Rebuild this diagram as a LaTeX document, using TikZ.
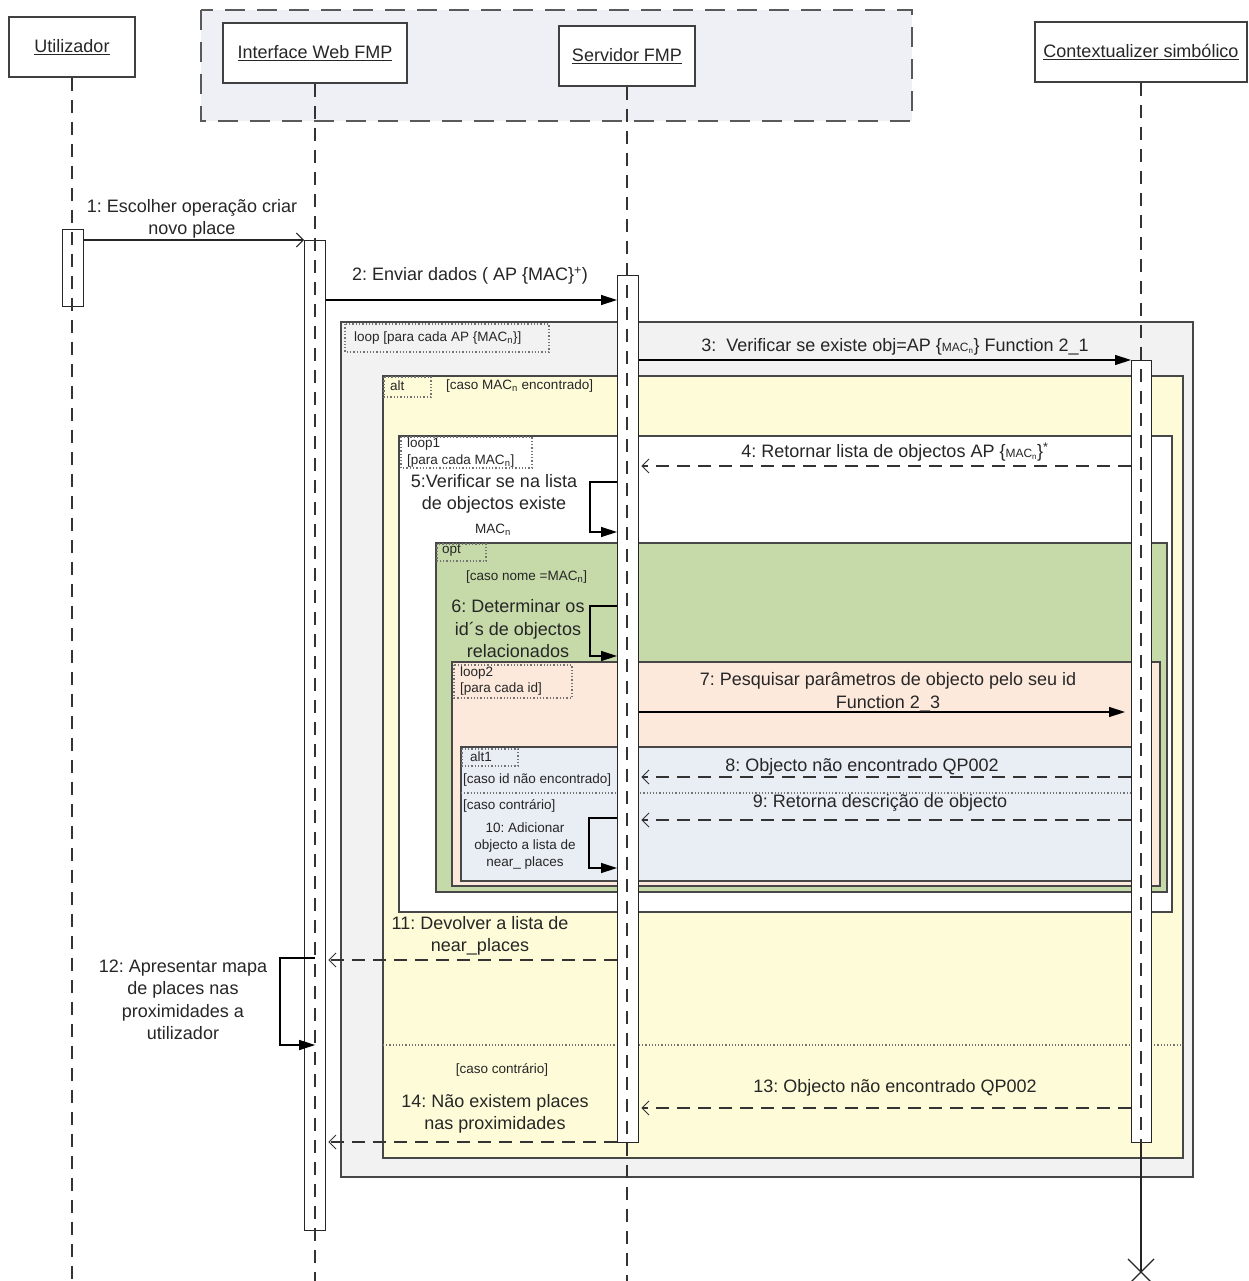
\documentclass[tikz,border=0pt]{standalone}
\usepackage{fontspec}
\setmainfont{Liberation Sans}
\usetikzlibrary{arrows.meta,calc}
\frenchspacing

\definecolor{groupfill}{HTML}{EEF0F6}
\definecolor{loopfill}{HTML}{F2F2F2}
\definecolor{altfill}{HTML}{FEFCD8}
\definecolor{optfill}{HTML}{C6D9A8}
\definecolor{loopBfill}{HTML}{FCE9DC}
\definecolor{altBfill}{HTML}{E9EDF4}
\definecolor{framecol}{HTML}{474747}
\definecolor{txt}{HTML}{262626}

\newcommand\mainfs{\fontsize{18}{22.5}\selectfont}
\newcommand\smallfs{\fontsize{13.5}{17}\selectfont}
\newcommand\macfs{\fontsize{12}{13}\selectfont}

\tikzset{
  head/.style={draw=black!75,line width=1.3pt,fill=white,font=\mainfs,text=txt,inner sep=0pt,minimum height=60pt},
  groupbox/.style={draw=black!65,line width=2pt,dash pattern=on 20pt off 12pt,fill=groupfill},
  lifeline/.style={draw=black!80,line width=1.3pt,dash pattern=on 13pt off 9pt},
  activation/.style={draw=black!85,line width=1.3pt,fill=white,inner sep=0pt,anchor=north west},
  frame/.style={draw=framecol,line width=1.6pt},
  tagbox/.style={draw=black!55,line width=1.3pt,dotted},
  separator/.style={draw=black!55,line width=1.2pt,dotted},
  msg/.style={font=\mainfs,text=txt,align=center,inner sep=0pt},
  smtext/.style={font=\smallfs,text=txt,inner sep=0pt},
  call/.style={draw=black,line width=1.3pt,-{Triangle[length=16pt,width=10pt]}},
  sendopen/.style={draw=black!85,line width=1.3pt,-{Straight Barb[length=7pt,width=14pt,line width=1pt]}},
  reply/.style={draw=black!80,line width=1.3pt,dash pattern=on 13pt off 8pt,-{Straight Barb[length=7pt,width=14pt,line width=1pt]},shorten >=2pt},
}

\begin{document}
\begin{tikzpicture}[x=1pt,y=-1pt]
\useasboundingbox (0,0) rectangle (1248,1281);
\fill[white] (0,0) rectangle (1248,1281);

% component group around the web interface and the server
\draw[groupbox] (201,10) rectangle (912,121);

% lifeline heads
\node[head,minimum width=126pt] (hU) at (72,47) {\underline{Utilizador}};
\node[head,minimum width=184pt] (hI) at (315,53) {\underline{Interface Web FMP}};
\node[head,minimum width=136pt] (hS) at (627,56) {\underline{Servidor FMP}};
\node[head,minimum width=212pt] (hC) at (1141,52) {\underline{Contextualizer simbólico}};

% combined fragment: outer loop
\draw[frame,fill=loopfill] (341,322) rectangle (1193,1177);
\draw[tagbox] (345,324) rectangle (549,352);
\node[smtext,anchor=west] (tLoop) at (354,338) {loop [para cada AP \{MAC\textsubscript{n}\}]};

% alt
\draw[frame,fill=altfill] (383,376) rectangle (1183,1158);
\draw[tagbox] (384,377) rectangle (431,397);
\node[smtext,anchor=west] (tAlt) at (390,386) {alt};
\node[smtext,anchor=west] (gAltA) at (446,386) {[caso MAC\textsubscript{n} encontrado]};
\draw[separator] (383,1045) -- (1183,1045);
\node[smtext] (gAltB) at (502,1070) {[caso contrário]};

% loop1
\draw[frame,fill=white] (399,436) rectangle (1172,912);
\draw[tagbox] (401,437) rectangle (532,468);
\node[smtext,anchor=west] (tLoopA) at (407,444) {loop1};
\node[smtext,anchor=west] (gLoopA) at (407,461) {[para cada MAC\textsubscript{n}]};

% opt
\draw[frame,fill=optfill] (436,543) rectangle (1167,892);
\draw[tagbox] (437,544) rectangle (486,561);
\node[smtext,anchor=west] (tOpt) at (442,551) {opt};
\node[smtext,anchor=west] (gOpt) at (466,577) {[caso nome =MAC\textsubscript{n}]};

% loop2
\draw[frame,fill=loopBfill] (452,662) rectangle (1160,886);
\draw[tagbox] (454,665) rectangle (572,698);
\node[smtext,anchor=west] (tLoopB) at (460,673) {loop2};
\node[smtext,anchor=west] (gLoopB) at (460,689) {[para cada id]};

% alt1
\draw[frame,fill=altBfill] (461,747) rectangle (1133,881);
\draw[tagbox] (462,749) rectangle (518,766);
\node[smtext,anchor=west] (tAltB) at (470,757) {alt1};
\node[smtext,anchor=west] (gAltC) at (463,780) {[caso id não encontrado]};
\draw[separator] (461,793) -- (1133,793);
\node[smtext,anchor=west] (gAltD) at (463,806) {[caso contrário]};

% activation bars
\node[activation,minimum width=21pt,minimum height=77pt] (aU) at (62,229) {};
\node[activation,minimum width=21pt,minimum height=990pt] (aI) at (304,240) {};
\node[activation,minimum width=21pt,minimum height=867pt] (aS) at (617,275) {};
\node[activation,minimum width=20pt,minimum height=782pt] (aC) at (1131,360) {};

% lifelines
\draw[lifeline] (hU.south) -- (hU.south |- 0,1281);
\draw[lifeline] (hI.south) -- (hI.south |- 0,1281);
\draw[lifeline] (hS.south) -- (hS.south |- 0,1281);
\draw[lifeline] (hC.south) -- (aC.south -| hC.south);
\coordinate (endC) at (1141,1272);
\draw[black!85,line width=1.2pt] (aC.south -| hC.south) -- (endC);
\draw[black!85,line width=1.2pt] (endC) +(-13,-13) -- +(13,13) (endC) +(-13,13) -- +(13,-13);

% 1
\draw[sendopen] (aU.east |- 0,240) -- (aI.west |- 0,240);
\node[msg] (m1) at (192,219) {1: Escolher operação criar\\novo place};
% 2
\draw[call] (aI.east |- 0,300) -- (aS.west |- 0,300);
\node[msg] (m2) at (470,276) {2: Enviar dados ( AP \{MAC\}\textsuperscript{+})};
% 3
\draw[call] (aS.east |- 0,360) -- (aC.west |- 0,360);
\node[msg] (m3) at (895,347) {3:\ \ Verificar se existe obj=AP \{{\macfs MAC\textsubscript{n}}\} Function 2\_1};
% 4
\draw[reply] (aC.west |- 0,466) -- (aS.east |- 0,466);
\node[msg] (m4) at (895,452) {4: Retornar lista de objectos AP \{{\macfs MAC\textsubscript{n}}\}\textsuperscript{*}};
% 5
\draw[call] (aS.west |- 0,482) -- ++(-27,0) -- ++(0,50) -- (aS.west |- 0,532);
\node[msg] (m5) at (494,494) {5:Verificar se na lista\\de objectos existe};
\node[smtext] (m5b) at (493,530) {MAC\textsubscript{n}};
% 6
\draw[call] (aS.west |- 0,606) -- ++(-27,0) -- ++(0,50) -- (aS.west |- 0,656);
\node[msg] (m6) at (518,629) {6: Determinar os\\id´s de objectos\\relacionados};
% 7
\draw[call,shorten >=6pt] (aS.east |- 0,712) -- (aC.west |- 0,712);
\node[msg] (m7) at (888,692) {7: Pesquisar parâmetros de objecto pelo seu id\\Function 2\_3};
% 8
\draw[reply] (aC.west |- 0,777) -- (aS.east |- 0,777);
\node[msg] (m8) at (862,767) {8: Objecto não encontrado QP002};
% 9
\draw[reply] (aC.west |- 0,820) -- (aS.east |- 0,820);
\node[msg] (m9) at (880,803) {9: Retorna descrição de objecto};
% 10
\draw[call] (aS.west |- 0,818) -- ++(-28,0) -- ++(0,50) -- (aS.west |- 0,868);
\node[smtext,align=center] (m10) at (525,846) {10: Adicionar\\objecto a lista de\\near\_ places};
% 11
\draw[reply] (aS.west |- 0,960) -- (aI.east |- 0,960);
\node[msg] (m11) at (480,936) {11: Devolver a lista de\\near\_places};
% 12
\draw[call] (aI.center |- 0,958) -- (280,958) -- (280,1045) -- (aI.center |- 0,1045);
\node[msg] (m12) at (183,1000) {12: Apresentar mapa\\de places nas\\proximidades a\\utilizador};
% 13
\draw[reply] (aC.west |- 0,1108) -- (aS.east |- 0,1108);
\node[msg] (m13) at (895,1088) {13: Objecto não encontrado QP002};
% 14
\draw[reply] (aS.west |- 0,1142) -- (aI.east |- 0,1142);
\node[msg] (m14) at (495,1114) {14: Não existem places\\nas proximidades};
\end{tikzpicture}
\end{document}
